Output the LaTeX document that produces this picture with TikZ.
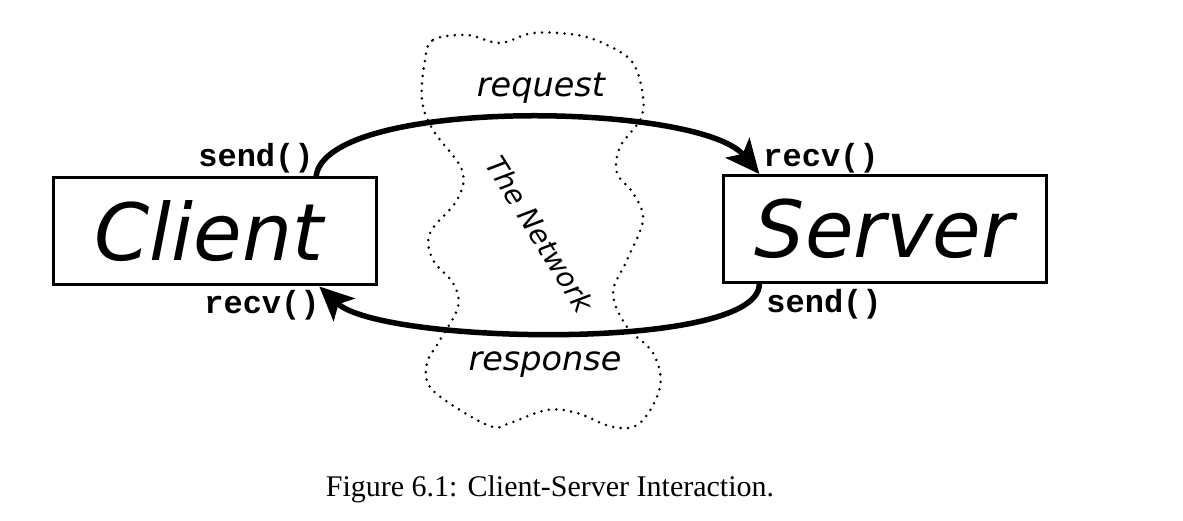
\documentclass[tikz,border=0pt]{standalone}
\usepackage{fontspec}
\setmainfont{Liberation Serif}
\newfontfamily\dejavu{DejaVu Sans}
\newfontfamily\codefont{Liberation Mono}
\usetikzlibrary{calc, arrows.meta, positioning}

\begin{document}
\begin{tikzpicture}[
    x=1pt, y=-1pt,
    >=Stealth,
    host/.style={rectangle, draw, line width=3pt, inner sep=0pt,
        minimum width=323pt, minimum height=107pt,
        font=\dejavu\itshape\fontsize{79}{82}\selectfont},
    call/.style={inner sep=0pt, font=\codefont\bfseries\fontsize{32}{34}\selectfont},
    msg/.style={inner sep=0pt, font=\dejavu\itshape\fontsize{33.5}{36}\selectfont},
    flow/.style={line width=5.5pt, -{Stealth[length=34pt, width=31pt, inset=8pt]}},
    cloud/.style={line width=2.8pt, dash pattern=on 0pt off 7.5pt, line cap=round}
]

    \useasboundingbox (0,0) rectangle (1183,521);

    % Network ----------------------------------------------------

    \draw[cloud] plot[smooth cycle, tension=0.6] coordinates {
        (425,60) (433,40) (467,35) (500,43) (533,33) (577,35) (607,45)
        (633,63) (643,97) (640,120) (620,147) (617,173) (633,193)
        (643,220) (627,260) (613,293) (627,327) (653,353) (660,387)
        (640,423) (613,427) (577,413) (547,410) (510,423) (493,427)
        (460,410) (430,387) (427,363) (440,340) (458,307) (453,283)
        (433,260) (430,233) (457,200) (462,170) (433,130) (422,100)};

    \node[rotate=-58, inner sep=0pt, font=\dejavu\itshape\fontsize{28}{30}\selectfont]
        (net) at (540,234) {The Network};

    % Nodes ------------------------------------------------------

    \node[host] (client) at (215,231.5) {\hspace*{-12pt}Client};
    \node[host] (server) at (884.5,229) {Server};

    % labels
    \node[call] (client_send) at (256,158) {send()};
    \node[call] (client_recv) at (262,305) {recv()};
    \node[call] (server_recv) at (821,158) {recv()};
    \node[call] (server_send) at (824,304) {send()};

    \node[msg] (req) at (541,88) {request};
    \node[msg] (resp) at (545,365) {response};

    % Arrows -----------------------------------------------------

    \coordinate (reqA) at ($(client.north west)!0.81!(client.north east)$);
    \coordinate (reqB) at ($(server.north west)!0.116!(server.north east)$);
    \coordinate (respA) at ($(server.south west)!0.116!(server.south east)$);
    \coordinate (respB) at ($(client.south west)!0.82!(client.south east)$);

    \draw[flow] (reqA) .. controls +(10,-80) and +(-60,-72) .. (reqB);
    \draw[flow] (respA) .. controls +(0,68) and +(62,58) .. (respB);

    % caption
    \node[font=\fontsize{30}{33}\selectfont] (caption) at (550,489)
        {Figure 6.1: Client-Server Interaction.};

\end{tikzpicture}
\end{document}
